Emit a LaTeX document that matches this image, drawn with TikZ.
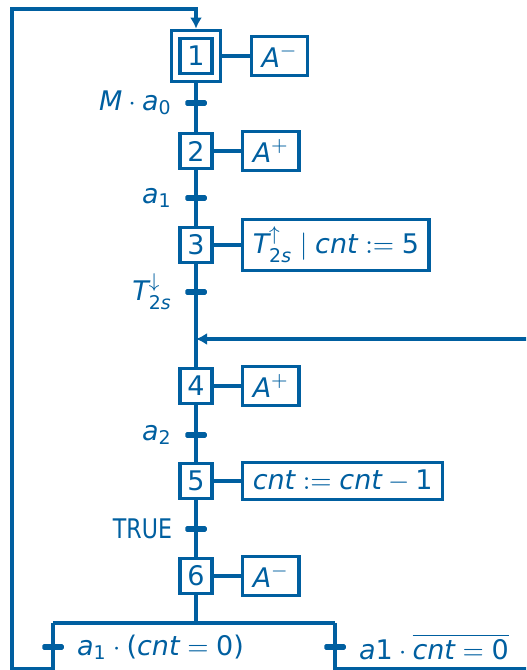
\documentclass[tikz,border=0pt]{standalone}
\usepackage{amsmath}
\usepackage{fontspec}
\setmainfont{DejaVu Sans}
\newfontfamily\condfont[FakeStretch=0.82]{DejaVu Sans}
\usetikzlibrary{positioning,arrows.meta}
\definecolor{grafblue}{RGB}{0,95,160}
\newcommand{\mv}[1]{\textit{#1}}
\newcommand{\mn}[1]{\textup{#1}}
\tikzset{
  stepbox/.style={draw,minimum width=12.8pt,minimum height=14.2pt,inner sep=0pt},
  initbox/.style={draw,minimum width=19.8pt,minimum height=20.6pt,inner sep=0pt},
  actbox/.style={draw,minimum height=14.2pt,inner xsep=4pt,inner ysep=3pt},
  transbar/.style={fill,minimum width=8.6pt,minimum height=2.3pt,inner sep=0pt,rounded corners=0.6pt},
  translabel/.style={inner sep=1pt}
}
\begin{document}
\begin{tikzpicture}[>={Latex[length=4.4pt,width=4.8pt]},x=0.4pt,y=-0.4pt,
    color=grafblue,line width=1.3pt,font=\fontsize{10.8}{12}\selectfont]
    \useasboundingbox (0,0) rectangle (526,670);
    \clip (0,0) rectangle (526,670);
    % steps
    \node[stepbox] (s1) at (196,56) {1};
    \node[initbox] (s1o) at (s1) {};
    \node[stepbox] (s2) at (196,151) {2};
    \node[stepbox] (s3) at (196,245) {3};
    \node[stepbox] (s4) at (196,386) {4};
    \node[stepbox] (s5) at (196,481) {5};
    \node[stepbox] (s6) at (196,576) {6};
    % actions
    \node[actbox,right=11pt of s1o] (a1) {$\mv{A}^{-}$};
    \node[actbox,right=11pt of s2] (a2) {$\mv{A}^{+}$};
    \node[actbox,right=11pt of s3] (a3) {$\mv{T}^{\uparrow}_{\mn{2}\mv{s}}\mid\mv{cnt}:=\mn{5}$};
    \node[actbox,right=11pt of s4] (a4) {$\mv{A}^{+}$};
    \node[actbox,right=11pt of s5] (a5) {$\mv{cnt}:=\mv{cnt}-\mn{1}$};
    \node[actbox,right=11pt of s6] (a6) {$\mv{A}^{-}$};
    \draw (s1o) -- (a1);
    \draw (s2) -- (a2);
    \draw (s3) -- (a3);
    \draw (s4) -- (a4);
    \draw (s5) -- (a5);
    \draw (s6) -- (a6);
    % transitions
    \node[transbar] (t1) at (196,103) {};
    \node[transbar] (t2) at (196,198) {};
    \node[transbar] (t3) at (196,292) {};
    \node[transbar] (t4) at (196,435) {};
    \node[transbar] (t5) at (196,529) {};
    \node[transbar] (tl) at (53,647) {};
    \node[transbar] (tr) at (335,647) {};
    \node[translabel,left=3pt of t1] (t1l) {$\mv{M}\cdot\mv{a}_{\mn{0}}$};
    \node[translabel,left=3pt of t2] (t2l) {$\mv{a}_{\mn{1}}$};
    \node[translabel,left=3pt of t3] (t3l) {$\mv{T}^{\downarrow}_{\mn{2}\mv{s}}$};
    \node[translabel,left=3pt of t4] (t4l) {$\mv{a}_{\mn{2}}$};
    \node[translabel,left=3pt of t5] (t5l) {\condfont TRUE};
    \node[translabel,right=3pt of tl] (tll) {$\mv{a}_{\mn{1}}\cdot\mn{(}\mv{cnt}=\mn{0}\mn{)}$};
    \node[translabel,right=3pt of tr] (trl) {$\mv{a}\mn{1}\cdot\overline{\mv{cnt}=\mn{0}}$};
    % links
    \coordinate (j) at (196,339);
    \coordinate (d6) at (196,623);
    \coordinate (dl) at (53,623);
    \coordinate (dr) at (335,623);
    \coordinate (bl) at (53,669);
    \coordinate (lb) at (12,669);
    \coordinate (lt) at (12,9);
    \coordinate (top) at (196,9);
    \coordinate (br) at (335,669);
    \coordinate (rb) at (560,669);
    \coordinate (rt) at (560,339);
    \draw (s1o) -- (s2);
    \draw (s2) -- (s3);
    \draw (s3) -- (s4);
    \draw (s4) -- (s5);
    \draw (s5) -- (s6);
    \draw (s6) -- (d6);
    \draw (dl) -- (dr);
    \draw[->] (dl) -- (bl) -- (lb) -- (lt) -- (top) -- (s1o);
    \draw[->] (dr) -- (br) -- (rb) -- (rt) -- (j);
\end{tikzpicture}
\end{document}
